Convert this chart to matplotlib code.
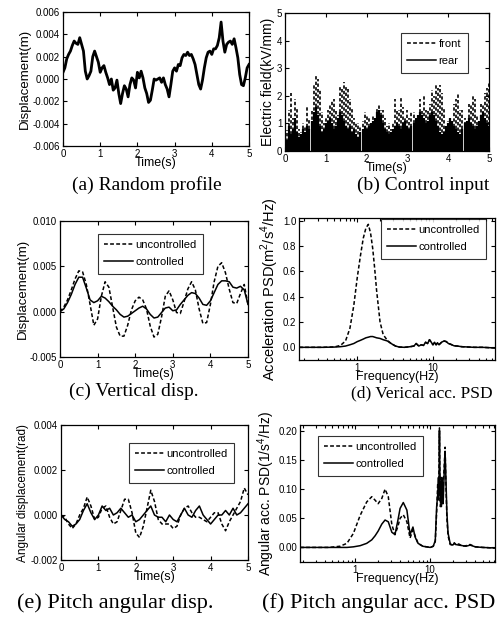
import numpy as np
import matplotlib
matplotlib.use("Agg")
import matplotlib.pyplot as plt
from matplotlib.lines import Line2D
from matplotlib.ticker import FormatStrFormatter, NullFormatter

plt.rcParams['font.family'] = ['Liberation Sans', 'DejaVu Sans']
plt.rcParams['mathtext.fontset'] = 'custom'
plt.rcParams['mathtext.rm'] = 'Liberation Sans'

# (a) random road profile, sampled every 0.05 s
road = [0.0006, 0.0010, 0.0018, 0.0022, 0.0025, 0.0030, 0.0034, 0.0032, 0.0031, 0.0037,
        0.0031, 0.0025, 0.0007, 0.0000, 0.0003, 0.0007, 0.0020, 0.0025, 0.0020, 0.0015,
        0.0006, 0.0010, 0.0012, 0.0006, 0.0001, -0.0005, 0.0000, -0.0010, -0.0008, -0.0001,
        -0.0013, -0.0022, -0.0013, -0.0006, -0.0009, -0.0016, -0.0005, 0.0001, -0.0001, -0.0008,
        0.0006, 0.0001, 0.0007, 0.0001, -0.0008, -0.0013, -0.0021, -0.0019, -0.0010, 0.0000,
        -0.0001, 0.0000, 0.0001, -0.0003, 0.0001, -0.0005, -0.0009, -0.0016, -0.0005, 0.0007,
        0.0010, 0.0007, 0.0013, 0.0012, 0.0019, 0.0022, 0.0021, 0.0024, 0.0021, 0.0022,
        0.0018, 0.0013, 0.0004, -0.0005, -0.0009, -0.0001, 0.0010, 0.0019, 0.0024, 0.0025,
        0.0022, 0.0027, 0.0027, 0.0030, 0.0037, 0.0051, 0.0034, 0.0024, 0.0031, 0.0033,
        0.0034, 0.0031, 0.0036, 0.0028, 0.0019, 0.0004, -0.0005, -0.0006, 0.0001, 0.0010,
        0.0013]

# (b) control voltage, front and rear dampers, every 0.05 s
front = [0.6, 0.75, 1.5, 2.1, 1.2, 1.9, 1.6, 0.8, 0.7, 1.0,
         0.9, 1.6, 1.2, 1.5, 2.4, 2.8, 2.6, 2.2, 1.4, 1.0,
         1.2, 1.5, 1.7, 1.8, 1.9, 1.5, 1.3, 2.4, 2.3, 2.5,
         2.4, 2.3, 1.9, 1.6, 1.2, 1.0, 1.0, 0.9, 1.1, 1.4,
         1.3, 1.2, 1.0, 1.3, 1.1, 1.6, 1.7, 1.5, 1.5, 1.2,
         0.9, 1.0, 0.8, 1.0, 1.9, 1.5, 1.5, 2.0, 1.6, 1.2,
         1.5, 1.2, 1.4, 1.4, 1.2, 1.3, 1.9, 1.5, 2.0, 1.5,
         1.5, 1.7, 2.2, 2.0, 2.4, 2.3, 2.4, 2.1, 1.6, 0.9,
         1.1, 1.1, 1.0, 1.7, 1.9, 2.1, 1.5, 1.5, 1.2, 1.1,
         1.7, 1.7, 2.0, 1.9, 1.3, 1.1, 1.7, 1.7, 2.1, 2.3,
         2.5]
rear = [0.5, 0.4, 0.9, 0.6, 0.8, 1.2, 0.7, 0.5, 0.6, 0.8,
        0.7, 0.9, 0.8, 1.1, 1.4, 1.6, 1.3, 0.9, 0.7, 0.8,
        1.0, 1.1, 1.2, 1.0, 0.8, 0.9, 1.2, 1.4, 1.3, 1.1,
        0.9, 0.8, 0.9, 0.7, 0.8, 0.6, 0.5, 0.7, 0.8, 0.9,
        0.8, 0.9, 1.0, 1.1, 1.2, 1.4, 1.5, 1.3, 1.0, 0.8,
        0.7, 0.6, 0.7, 0.8, 0.9, 1.0, 0.9, 0.8, 1.0, 1.1,
        0.9, 0.8, 0.9, 1.0, 1.2, 1.3, 1.4, 1.3, 1.2, 1.0,
        1.1, 1.3, 1.4, 1.3, 1.1, 0.9, 0.7, 0.6, 0.7, 0.9,
        1.0, 1.2, 1.1, 0.9, 0.8, 0.7, 0.6, 0.8, 1.0, 1.1,
        1.2, 1.0, 0.9, 0.8, 0.9, 1.1, 1.3, 1.4, 1.2, 1.0,
        0.9]

# (c) vertical body displacement, every 0.1 s
vert_unc = [0.0, 0.0005, 0.0013, 0.0024, 0.0036, 0.0045, 0.0044, 0.0030, 0.0008, -0.0015,
            -0.0008, 0.0017, 0.0033, 0.0027, 0.0005, -0.0017, -0.0027, -0.0027, -0.0015, 0.0002,
            0.0012, 0.0016, 0.0013, 0.0003, -0.0016, -0.0028, -0.0025, -0.0006, 0.0017, 0.0023,
            0.0013, -0.0001, -0.0002, 0.0011, 0.0025, 0.0033, 0.0024, 0.0003, -0.0013, -0.0012,
            0.0008, 0.0033, 0.0050, 0.0054, 0.0043, 0.0025, 0.0010, 0.0009, 0.0020, 0.0030,
            0.0008]
vert_ctl = [0.0, 0.0003, 0.0010, 0.0019, 0.0030, 0.0038, 0.0038, 0.0026, 0.0013, 0.0010,
            0.0012, 0.0017, 0.0015, 0.0011, 0.0006, 0.0002, -0.0003, -0.0006, -0.0005, -0.0002,
            0.0001, 0.0004, 0.0006, 0.0003, -0.0003, -0.0007, -0.0006, -0.0001, 0.0004, 0.0005,
            0.0001, 0.0002, 0.0008, 0.0013, 0.0018, 0.0021, 0.0020, 0.0015, 0.0008, 0.0007,
            0.0012, 0.0021, 0.0030, 0.0034, 0.0034, 0.0033, 0.0027, 0.0026, 0.0028, 0.0024,
            0.0008]

# (d) vertical acceleration PSD
freq_d = [0.17, 0.25, 0.35, 0.5, 0.6, 0.7, 0.8, 0.9, 1.0, 1.1,
          1.2, 1.3, 1.4, 1.5, 1.6, 1.7, 1.8, 2.0, 2.2, 2.5,
          2.8, 3.2, 3.6, 4.2, 5.0, 5.6, 6.0, 6.5, 7.0, 7.5,
          8.0, 8.5, 9.0, 9.5, 10, 10.5, 11, 11.5, 12, 13,
          14, 15, 16, 17, 19, 21, 24, 28, 35, 45,
          66]
psd_d_unc = [0.0, 0.0, 0.0, 0.003, 0.015, 0.05, 0.15, 0.33, 0.55, 0.72,
             0.86, 0.94, 0.97, 0.90, 0.78, 0.62, 0.45, 0.20, 0.10, 0.055,
             0.03, 0.01, 0.002, 0.0, 0.005, 0.01, 0.03, 0.01, 0.02, 0.015,
             0.04, 0.03, 0.06, 0.04, 0.02, 0.04, 0.02, 0.035, 0.02, 0.04,
             0.05, 0.045, 0.03, 0.025, 0.012, 0.01, 0.005, 0.003, 0.0, 0.0,
             -0.005]
psd_d_ctl = [0.0, 0.0, 0.0, 0.002, 0.005, 0.01, 0.02, 0.03, 0.045, 0.055,
             0.065, 0.075, 0.08, 0.085, 0.085, 0.08, 0.075, 0.07, 0.06, 0.05,
             0.03, 0.01, 0.002, 0.0, 0.005, 0.01, 0.03, 0.01, 0.02, 0.015,
             0.04, 0.03, 0.06, 0.04, 0.02, 0.04, 0.02, 0.035, 0.02, 0.04,
             0.05, 0.045, 0.03, 0.025, 0.012, 0.01, 0.005, 0.003, 0.0, 0.0,
             -0.005]

# (e) pitch angle, every 0.1 s
pitch_unc = [0.0, -0.0001, -0.0004, -0.0006, -0.0004, 0.0000, 0.0003, 0.0008, 0.0004, -0.0002,
             -0.0001, 0.0003, 0.0004, -0.0001, -0.0004, -0.0003, 0.0002, 0.0007, 0.0007, 0.0001,
             -0.0008, -0.0010, -0.0005, 0.0003, 0.0011, 0.0006, -0.0002, -0.0004, -0.0004, -0.0004,
             -0.0006, -0.0005, 0.0000, 0.0003, 0.0004, 0.0001, -0.0001, -0.0001, -0.0002, -0.0003,
             -0.0001, 0.0001, 0.0001, -0.0004, -0.0007, -0.0003, 0.0000, 0.0003, 0.0006, 0.0012,
             0.0009]
pitch_ctl = [0.0, -0.0002, -0.0003, -0.0005, -0.0004, -0.0002, 0.0002, 0.0005, 0.0001, -0.0002,
             0.0000, 0.0004, 0.0002, 0.0003, 0.0000, 0.0001, 0.0003, 0.0001, -0.0001, 0.0000,
             -0.0003, -0.0002, 0.0000, 0.0002, 0.0004, 0.0000, -0.0001, -0.0001, -0.0003, 0.0000,
             -0.0002, -0.0003, 0.0000, 0.0003, 0.0000, -0.0001, 0.0002, 0.0004, 0.0000, -0.0002,
             -0.0004, -0.0002, 0.0000, 0.0000, 0.0002, 0.0000, 0.0003, 0.0000, 0.0001, 0.0003,
             0.0005]

# (f) pitch angular acceleration PSD
freq_f = [0.185, 0.3, 0.45, 0.63, 0.78, 0.95, 1.17, 1.43, 1.67, 1.85,
          2.03, 2.27, 2.51, 2.77, 3.09, 3.4, 3.7, 3.98, 4.39, 4.9,
          5.4, 5.9, 6.3, 6.9, 8.0, 9.0, 10.0, 11.0, 11.7, 12.2,
          12.6, 12.9, 13.1, 13.3, 13.5, 13.7, 13.9, 14.1, 14.3, 14.5,
          14.7, 14.9, 15.1, 15.4, 15.8, 16.2, 16.7, 17.3, 18.5, 20,
          21, 22, 24, 27, 30, 34, 40, 50, 73]
psd_f_unc = [0.0, 0.0, 0.0, 0.002, 0.007, 0.024, 0.055, 0.078, 0.087, 0.081,
             0.075, 0.084, 0.100, 0.087, 0.039, 0.022, 0.035, 0.050, 0.056, 0.044,
             0.016, 0.030, 0.020, 0.007, 0.002, 0.001, 0.0, 0.002, 0.010, 0.060,
             0.110, 0.080, 0.130, 0.205, 0.100, 0.070, 0.120, 0.080, 0.110, 0.075,
             0.100, 0.080, 0.120, 0.140, 0.172, 0.110, 0.050, 0.020, 0.005, 0.004,
             0.008, 0.004, 0.006, 0.002, 0.003, 0.005, 0.001, 0.0, -0.001]
psd_f_ctl = [0.0, 0.0, 0.0, 0.0, 0.0, 0.001, 0.003, 0.007, 0.013, 0.020,
             0.028, 0.040, 0.047, 0.044, 0.026, 0.022, 0.045, 0.067, 0.077, 0.064,
             0.022, 0.035, 0.018, 0.007, 0.002, 0.001, 0.0, 0.002, 0.012, 0.070,
             0.090, 0.120, 0.090, 0.200, 0.120, 0.080, 0.100, 0.070, 0.120, 0.090,
             0.110, 0.075, 0.100, 0.130, 0.165, 0.120, 0.060, 0.025, 0.006, 0.004,
             0.007, 0.005, 0.004, 0.003, 0.002, 0.004, 0.001, 0.0, -0.001]

W, H = 498, 635
fig = plt.figure(figsize=(W / 100, H / 100), dpi=100)


def box(left, top, right, bottom):
    return fig.add_axes([left / W, 1 - bottom / H, (right - left) / W, (bottom - top) / H])


def style(ax):
    ax.tick_params(direction='in', which='both', top=True, right=True,
                   labelsize=7, length=3, width=0.8, pad=2)
    ax.tick_params(which='minor', length=1.8)
    for s in ax.spines.values():
        s.set_linewidth(0.9)


dash = dict(color='black', lw=1.1, linestyle=(0, (2.5, 1.5)))
solid = dict(color='black', lw=1.1)


def legend(ax, x, y, labels):
    handles = [Line2D([], [], **dash), Line2D([], [], **solid)]
    lg = ax.legend(handles, labels, loc='upper left', bbox_to_anchor=(x / W, 1 - y / H),
                   bbox_transform=fig.transFigure, fontsize=8, frameon=True,
                   fancybox=False, edgecolor='black', handlelength=2.6,
                   borderpad=0.6, labelspacing=0.6, handletextpad=0.2)
    lg.get_frame().set_linewidth(0.8)


def caption(x, y, text, size, ha='center'):
    fig.text(x / W, 1 - y / H, text, fontsize=size, family='Liberation Serif',
             ha=ha, va='center')


xlab = dict(fontsize=9, labelpad=-1)

# (a)
ax = box(63, 12, 249, 146)
t = np.linspace(0, 5, len(road))
ax.plot(t, road, color='black', lw=2.0)
ax.set_xlim(0, 5)
ax.set_ylim(-0.006, 0.006)
ax.set_yticks(np.arange(-0.006, 0.0061, 0.002))
ax.yaxis.set_major_formatter(FormatStrFormatter('%.3f'))
ax.set_xlabel('Time(s)', **xlab)
ax.set_ylabel('Displacement(m)', fontsize=9.5, labelpad=1)
style(ax)
caption(147, 185, '(a) Random profile', 14)

# (b) spikes of the control field; dash phases staggered between neighbours
ax = box(285, 13, 489, 151)
t = np.linspace(0, 5, len(front))
ax.vlines(t, 0, rear, color='black', lw=1.6)
ax.vlines(t, 0, front, color='black', lw=1.2,
          linestyles=[(0, (2, 1.3)), (1.1, (2, 1.3)), (2.2, (2, 1.3))])
ax.set_xlim(0, 5)
ax.set_ylim(0, 5)
ax.set_xlabel('Time(s)', **xlab)
ax.set_ylabel('Electric field(kV/mm)', fontsize=10, labelpad=1)
style(ax)
legend(ax, 395, 27, ['front', 'rear'])
caption(423, 185, '(b) Control input', 14)

# (c)
ax = box(60, 221, 248, 357)
t = np.linspace(0, 5, len(vert_unc))
ax.plot(t, vert_unc, **dash)
ax.plot(t, vert_ctl, **solid)
ax.set_xlim(0, 5)
ax.set_ylim(-0.005, 0.010)
ax.set_yticks([-0.005, 0.0, 0.005, 0.010])
ax.yaxis.set_major_formatter(FormatStrFormatter('%.3f'))
ax.set_xlabel('Time(s)', **xlab)
ax.set_ylabel('Displacement(m)', fontsize=9.5, labelpad=1)
style(ax)
legend(ax, 92, 228, ['uncontrolled', 'controlled'])
caption(134, 391, '(c) Vertical disp.', 14)

# (d)
ax = box(299, 218, 495, 360)
ax.plot(freq_d, psd_d_unc, **dash)
ax.plot(freq_d, psd_d_ctl, **solid)
ax.set_xscale('log')
ax.set_xlim(0.17, 66)
ax.set_ylim(-0.1, 1.02)
ax.set_xticks([1, 10])
ax.set_xticklabels(['1', '10'])
ax.xaxis.set_minor_formatter(NullFormatter())
ax.set_yticks(np.arange(0, 1.01, 0.2))
ax.yaxis.set_major_formatter(FormatStrFormatter('%.1f'))
ax.set_xlabel('Frequency(Hz)', **xlab)
ax.set_ylabel('Acceleration PSD(m$^2$/s$^4$/Hz)', fontsize=10.5, labelpad=1)
style(ax)
legend(ax, 375, 213, ['uncontrolled', 'controlled'])
caption(422, 393, '(d) Verical acc. PSD', 12.5)

# (e)
ax = box(61, 425, 248, 560)
t = np.linspace(0, 5, len(pitch_unc))
ax.plot(t, pitch_unc, **dash)
ax.plot(t, pitch_ctl, **solid)
ax.set_xlim(0, 5)
ax.set_ylim(-0.002, 0.004)
ax.set_yticks([-0.002, 0.0, 0.002, 0.004])
ax.yaxis.set_major_formatter(FormatStrFormatter('%.3f'))
ax.set_xlabel('Time(s)', **xlab)
ax.set_ylabel('Angular displacement(rad)', fontsize=8.5, labelpad=1)
style(ax)
legend(ax, 123, 437, ['uncontrolled', 'controlled'])
caption(115, 603, '(e) Pitch angular disp.', 16)

# (f)
ax = box(300, 425, 495, 562)
ax.plot(freq_f, psd_f_unc, **dash)
ax.plot(freq_f, psd_f_ctl, **solid)
ax.set_xscale('log')
ax.set_xlim(0.185, 73)
ax.set_ylim(-0.025, 0.21)
ax.set_xticks([1, 10])
ax.set_xticklabels(['1', '10'])
ax.xaxis.set_minor_formatter(NullFormatter())
ax.set_yticks(np.arange(0, 0.201, 0.05))
ax.yaxis.set_major_formatter(FormatStrFormatter('%.2f'))
ax.set_xlabel('Frequency(Hz)', **xlab)
ax.set_ylabel('Angular acc. PSD(1/s$^4$/Hz)', fontsize=10, labelpad=1)
style(ax)
legend(ax, 312, 430, ['uncontrolled', 'controlled'])
caption(262, 603, '(f) Pitch angular acc. PSD', 16, ha='left')

fig.savefig('out.png', dpi=100)
